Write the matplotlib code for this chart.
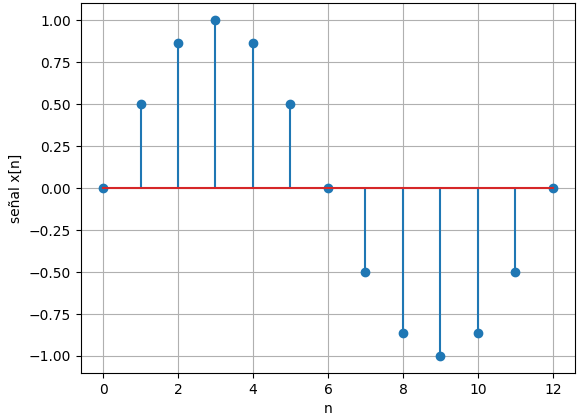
import matplotlib
matplotlib.use("Agg")
from matplotlib import pyplot as plt
import numpy as np

# discrete samples of the signal
n = [0, 1, 2, 3, 4, 5, 6, 7, 8, 9, 10, 11, 12]
x = [0.0, 0.5, 0.866, 1.0, 0.866, 0.5, 0.0, -0.5, -0.866, -1.0, -0.866, -0.5, 0.0]

fig = plt.figure(figsize=(5.8, 4.17), dpi=100)
ax = fig.add_axes([0.1388, 0.106, 0.8534, 0.8863])
ax.stem(n, x)
ax.set_xlabel('n')
ax.set_ylabel('señal x[n]')
ax.grid(True)

fig.savefig('out.png', dpi=100)
